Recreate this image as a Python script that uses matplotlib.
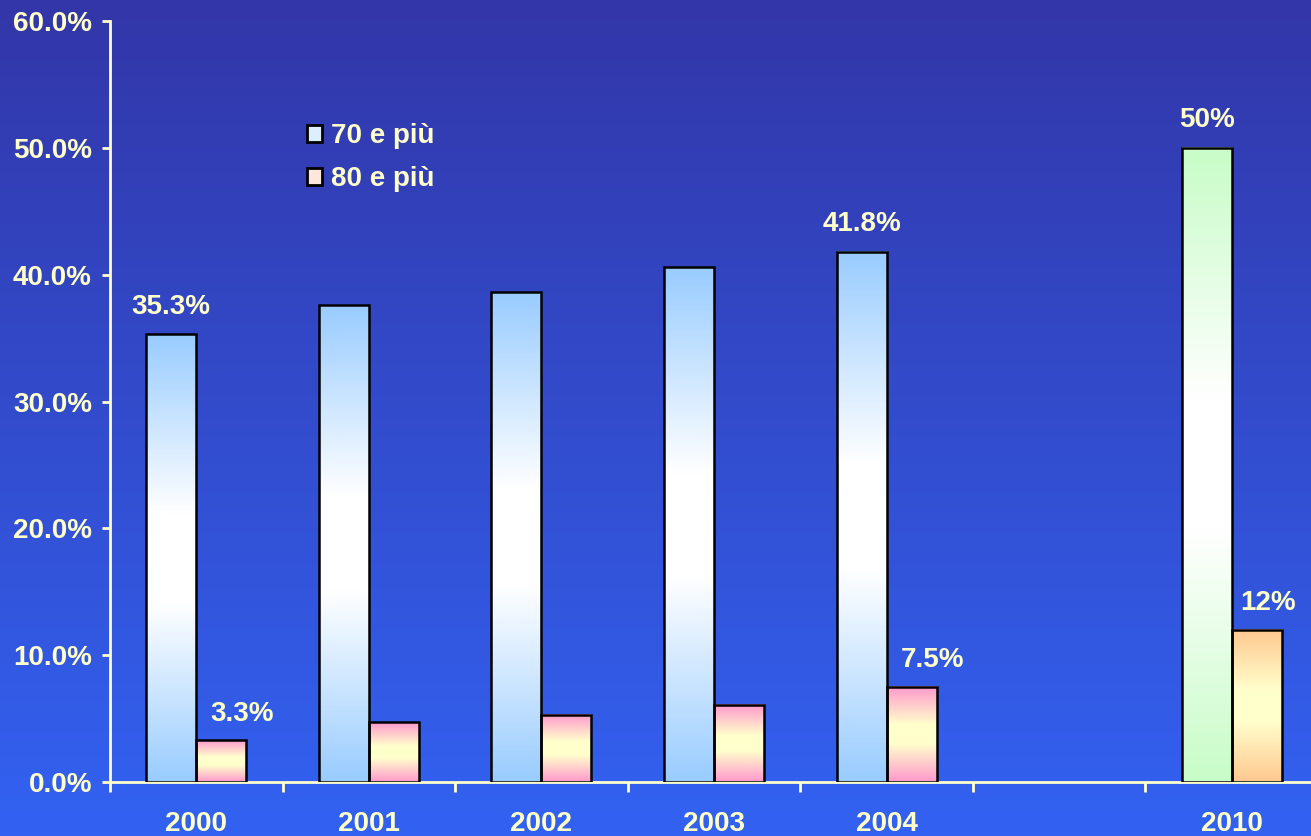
import numpy as np
import matplotlib
matplotlib.use("Agg")
import matplotlib.pyplot as plt
from matplotlib.colors import to_rgb
from matplotlib.patches import Patch

categories = ["2000", "2001", "2002", "2003", "2004", "", "2010"]
over70 = [35.3, 37.6, 38.6, 40.6, 41.8, None, 50.0]
over80 = [3.3, 4.7, 5.3, 6.1, 7.5, None, 12.0]
labels70 = {0: "35.3%", 4: "41.8%", 6: "50%"}
labels80 = {0: "3.3%", 4: "7.5%", 6: "12%"}
yticks = [0, 10, 20, 30, 40, 50, 60]

TXT = "#FFFFCC"
FS = 20
plt.rcParams['font.family'] = ['Liberation Sans', 'DejaVu Sans']
plt.rcParams['font.weight'] = 'bold'

W, H = 1311, 836
fig = plt.figure(figsize=(W/100, H/100), dpi=100)

# background gradient
bg = fig.add_axes([0, 0, 1, 1], zorder=-10)
top = np.array(to_rgb("#3236A8"))
bot = np.array(to_rgb("#3362F2"))
t = np.linspace(0, 1, 256)[:, None]
grad = top[None, :] * (1 - t) + bot[None, :] * t
bg.imshow(grad[:, None, :], aspect='auto', extent=[0, 1, 0, 1])
bg.axis('off')

ax = fig.add_axes([110/W, (H-782)/H, 1208/W, 761/H])
ax.set_facecolor('none')
ax.set_xlim(-0.5, 6.5)
ax.set_ylim(0, 60)

def grad_img(edge, mid, n=200):
    e = np.array(to_rgb(edge)); m = np.array(to_rgb(mid))
    s = np.linspace(0, 1, n)
    w = 1 - np.abs(2*s - 1)
    w = np.clip(w * 1.25, 0, 1)
    col = e[None, :] * (1 - w[:, None]) + m[None, :] * w[:, None]
    return col[:, None, :]

bw = 0.29
x = np.arange(len(categories))
for i in range(len(categories)):
    if over70[i] is None:
        continue
    if categories[i] == "2010":
        c70 = ("#C8FCC8", "#FFFFFF"); c80 = ("#FFC890", "#FFFFCC")
    else:
        c70 = ("#99CCFF", "#FFFFFF"); c80 = ("#FF99CC", "#FFFFCC")
    for val, off, cc in ((over70[i], -bw/2, c70), (over80[i], bw/2, c80)):
        x0 = x[i] + off - bw/2
        ax.imshow(grad_img(*cc), aspect='auto', origin='lower',
                  extent=[x0, x0 + bw, 0, val], zorder=2)
        ax.bar(x[i] + off, val, width=bw, facecolor='none',
               edgecolor='black', linewidth=1.8, zorder=3)
ax.set_xlim(-0.5, 6.5)
ax.set_ylim(0, 60)
ax.set_aspect('auto')

for i, s in labels70.items():
    ax.annotate(s, (x[i] - bw/2, over70[i]), xytext=(0, 20), textcoords='offset points',
                ha='center', va='center', color=TXT, fontsize=FS, fontweight='bold')
for i, s in labels80.items():
    dx = 8 if i == 6 else 15
    ax.annotate(s, (x[i] + bw/2, over80[i]), xytext=(dx, 19), textcoords='offset points',
                ha='center', va='center', color=TXT, fontsize=FS, fontweight='bold')

for sp in ['top', 'right']:
    ax.spines[sp].set_visible(False)
for sp in ['left', 'bottom']:
    ax.spines[sp].set_color(TXT)
    ax.spines[sp].set_linewidth(2)

ax.set_yticks(yticks)
ax.set_yticklabels([f"{v:.1f}%" for v in yticks])
ax.tick_params(axis='y', colors=TXT, labelcolor=TXT, labelsize=FS, length=6, width=2,
               direction='out', pad=7)
ax.set_xticks(np.arange(-0.5, 6.0, 1.0))
ax.set_xticklabels([])
ax.tick_params(axis='x', which='major', colors=TXT, length=7, width=2, direction='out')
ax.set_xticks(x, minor=True)
ax.set_xticklabels(categories, minor=True)
ax.tick_params(axis='x', which='minor', length=0, labelcolor=TXT, labelsize=FS, pad=21)

handles = [Patch(facecolor="#DDEEFF", edgecolor='black', linewidth=2, label="70 e più"),
           Patch(facecolor="#FFE6DD", edgecolor='black', linewidth=2, label="80 e più")]
leg = ax.legend(handles=handles, loc='upper left', bbox_to_anchor=(186/1208, 0.88),
                frameon=False, fontsize=FS, handlelength=0.55, handleheight=0.55,
                handletextpad=0.3, labelspacing=0.6, borderaxespad=0)
for txt in leg.get_texts():
    txt.set_color(TXT)
    txt.set_fontweight('bold')

fig.savefig("out.png", dpi=100)
